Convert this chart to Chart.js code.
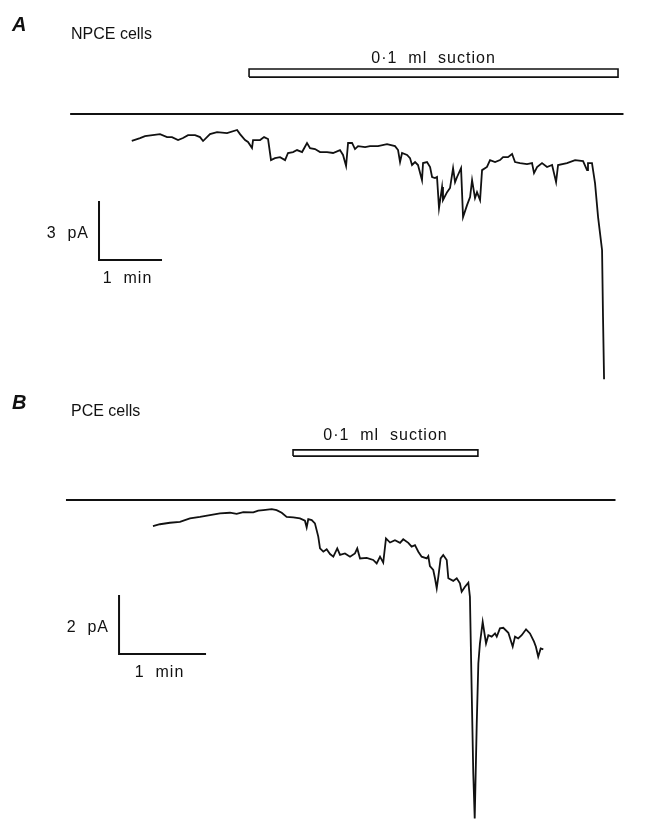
<!DOCTYPE html>
<html>
<head>
<meta charset="utf-8">
<script src="https://cdn.jsdelivr.net/npm/chart.js@4.4.1/dist/chart.umd.min.js"></script>
<style>
  html, body { margin: 0; padding: 0; background: #fff; }
  #wrap { position: relative; width: 649px; height: 824px; }
  canvas { position: absolute; left: 0; }
</style>
</head>
<body>
<div id="wrap">
  <canvas id="panelA" width="649" height="390" style="top:0"></canvas>
  <canvas id="panelB" width="649" height="434" style="top:390px"></canvas>
</div>
<script>
// === DATA (time in s, current in pA, zero current = reference line) ===

// A: NPCE cells
const timeA = [0.7, 8.6, 13.3, 27.6, 34.3, 39.0, 44.8, 49.5, 54.3, 61.0, 65.7, 68.6, 75.2, 81.9, 91.4, 101.0,
  103.8, 108.6, 111.4, 115.2, 116.2, 122.9, 126.7, 130.5, 133.3, 137.1, 141.9, 146.7, 149.5, 154.3, 158.1,
  162.9, 167.6, 170.5, 175.2, 180.0, 186.7, 192.4, 199.0, 201.9, 204.8, 206.7, 210.5, 213.3, 216.2, 222.9,
  227.6, 235.2, 243.8, 251.4, 254.3, 256.2, 258.1, 262.9, 265.7, 267.6, 270.5, 273.3, 277.1, 278.1, 281.9,
  284.8, 286.7, 289.5, 291.4, 293.3, 296.2, 297.1, 301.0, 303.8, 306.7, 308.6, 310.5, 314.3, 316.2, 320.0,
  322.9, 324.8, 327.6, 329.5, 332.4, 334.3, 339.0, 341.9, 346.7, 351.4, 354.3, 359.0, 362.9, 365.7, 370.5,
  377.1, 381.9, 383.8, 386.7, 391.4, 396.2, 401.0, 404.8, 406.7, 415.2, 422.9, 430.5, 434.3, 435.2, 439.0,
  441.9, 444.8, 448.6, 449.5, 450.5];
const currentA = [-1.36, -1.22, -1.12, -1.02, -1.17, -1.17, -1.32, -1.22, -1.07, -1.07, -1.17, -1.37, -1.02, -0.92, -0.97, -0.81,
  -1.02, -1.32, -1.42, -1.73, -1.32, -1.32, -1.17, -1.27, -2.34, -2.24, -2.19, -2.34, -1.98, -1.93, -1.83,
  -1.93, -1.47, -1.73, -1.78, -1.93, -1.93, -1.98, -1.83, -2.08, -2.64, -1.47, -1.47, -1.78, -1.63, -1.68,
  -1.63, -1.63, -1.53, -1.63, -1.83, -2.44, -1.98, -2.08, -2.24, -2.59, -2.44, -2.59, -3.36, -2.49, -2.44,
  -2.69, -3.20, -3.25, -3.20, -4.78, -3.71, -4.37, -3.97, -3.76, -2.75, -3.46, -3.20, -2.75, -5.24, -4.63,
  -4.22, -3.36, -4.27, -3.97, -4.37, -2.85, -2.69, -2.34, -2.44, -2.34, -2.19, -2.19, -2.03, -2.44, -2.49,
  -2.54, -2.49, -3.00, -2.69, -2.49, -2.69, -2.59, -3.46, -2.59, -2.49, -2.34, -2.39, -2.85, -2.49, -2.49,
  -3.51, -5.24, -6.92, -10.32, -13.48];
const suctionA = [112.4, 463.8];   // start, end (s)
const zeroSpanA = [-58, 469];      // extent of zero-current line (s)
const scaleA = [60, 3];            // 1 min, 3 pA

// B: PCE cells
const timeB = [0, 4.8, 11.7, 18.6, 25.5, 32.4, 39.3, 46.2, 53.1, 57.7, 62.3, 69.2, 72.6, 76.1, 81.9, 85.3,
  88.8, 92.2, 96.8, 101.4, 104.8, 106.0, 107.1, 109.5, 111.7, 114.0, 115.2, 117.5, 119.8, 122.1, 124.4,
  127.1, 129.0, 132.4, 135.9, 139.3, 140.9, 142.8, 147.4, 151.9, 154.3, 156.6, 158.8, 160.7, 163.5, 166.9,
  170.4, 172.6, 176.1, 178.4, 180.7, 183.0, 185.3, 188.8, 189.9, 191.0, 193.3, 194.5, 195.7, 196.8, 198.4,
  200.2, 202.6, 203.7, 207.1, 209.5, 211.7, 212.9, 215.2, 217.5, 218.6, 219.8, 220.9, 221.9, 223.3, 224.4,
  225.5, 227.4, 229.7, 231.3, 233.6, 235.9, 237.1, 239.3, 241.6, 245.1, 248.1, 249.7, 251.9, 254.3, 257.3,
  260.0, 262.8, 264.1, 265.7, 267.4, 269.2];
const currentB = [-0.88, -0.82, -0.77, -0.74, -0.62, -0.57, -0.51, -0.45, -0.43, -0.47, -0.41, -0.42, -0.36, -0.34, -0.31, -0.34,
  -0.43, -0.57, -0.59, -0.62, -0.70, -0.93, -0.65, -0.68, -0.79, -1.24, -1.64, -1.75, -1.67, -1.83, -1.92,
  -1.64, -1.86, -1.81, -1.92, -1.81, -1.64, -1.98, -1.96, -2.03, -2.15, -1.92, -2.12, -1.30, -1.44, -1.36,
  -1.45, -1.33, -1.45, -1.58, -1.53, -1.75, -1.92, -1.98, -1.90, -2.24, -2.37, -2.65, -2.99, -2.60, -1.98,
  -1.86, -2.03, -2.65, -2.74, -2.65, -2.82, -3.11, -2.94, -2.80, -3.28, -6.44, -9.26, -10.79, -7.57, -5.54,
  -4.86, -4.13, -4.86, -4.58, -4.63, -4.52, -4.63, -4.35, -4.33, -4.50, -4.97, -4.63, -4.69, -4.58, -4.38,
  -4.52, -4.80, -4.97, -5.31, -5.03, -5.06];
const suctionB = [96.6, 224.1];
const zeroSpanB = [-60, 319];
const scaleB = [60, 2];            // 1 min, 2 pA

// === PANELS ===
const INK = '#111';
const FONT = '"Liberation Sans", Arial, Helvetica, sans-serif';

function pts(ts, vs) {
  return ts.map((t, k) => ({ x: t, y: vs[k] }));
}

// draws the text of each panel (letter, title, suction label, scale bar labels)
const labelPlugin = {
  id: 'figLabels',
  afterDraw(chart, args, o) {
    const ctx = chart.ctx, sx = chart.scales.x, sy = chart.scales.y;
    ctx.save();
    ctx.fillStyle = INK;
    ctx.textBaseline = 'alphabetic';
    ctx.textAlign = 'left';
    ctx.font = 'italic bold 20px ' + FONT;
    ctx.fillText(o.letter, 12, o.letterY);
    ctx.font = '16px ' + FONT;
    ctx.fillText(o.title, 71, o.titleY);

    ctx.letterSpacing = '1px';
    ctx.font = '16px ' + FONT;
    ctx.textAlign = 'center';
    const sMid = sx.getPixelForValue((o.suction[0] + o.suction[1]) / 2);
    ctx.fillText('0·1  ml  suction', sMid, sy.getPixelForValue(o.suctionTop) - o.suctionGap);

    // scale bar labels
    const bx = sx.getPixelForValue(o.barOrigin[0]);
    const by = sy.getPixelForValue(o.barOrigin[1]);
    const bx2 = sx.getPixelForValue(o.barOrigin[0] + o.scale[0]);
    ctx.textBaseline = 'middle';
    ctx.textAlign = 'right';
    ctx.fillText(o.scale[1] + '  pA', bx - 10, by - 26);
    ctx.textAlign = 'center';
    ctx.fillText('1  min', (bx + bx2) / 2 - 3, by + 19);
    ctx.restore();
  }
};

function makePanel(id, p) {
  const [t0, t1] = p.suction;
  const [lo, hi] = p.suctionBox;
  const [ox, oy] = p.barOrigin;
  new Chart(document.getElementById(id), {
    type: 'line',
    data: {
      datasets: [
        { data: pts(p.time, p.current), borderWidth: 1.8 },
        { data: pts(p.zeroSpan, [0, 0]), borderWidth: 2 },
        { data: pts([t0, t1, t1, t0, t0], [lo, lo, hi, hi, lo]), borderWidth: 1.6 },
        { data: pts([ox, ox, ox + p.scale[0]], [oy + p.scale[1], oy, oy]), borderWidth: 2 }
      ]
    },
    options: {
      responsive: false,
      animation: false,
      devicePixelRatio: 1,
      layout: { padding: 0 },
      parsing: false,
      elements: {
        point: { radius: 0 },
        line: { borderColor: INK, tension: 0, borderJoinStyle: 'miter', fill: false }
      },
      scales: {
        x: { type: 'linear', display: false, min: p.xRange[0], max: p.xRange[1] },
        y: { type: 'linear', display: false, min: p.yRange[0], max: p.yRange[1] }
      },
      plugins: {
        legend: { display: false },
        tooltip: { enabled: false },
        figLabels: {
          letter: p.letter, letterY: p.letterY, title: p.title, titleY: p.titleY,
          suction: p.suction, suctionTop: hi, suctionGap: p.suctionGap,
          barOrigin: p.barOrigin, scale: p.scale
        }
      }
    },
    plugins: [labelPlugin]
  });
}

makePanel('panelA', {
  time: timeA, current: currentA, suction: suctionA, zeroSpan: zeroSpanA, scale: scaleA,
  suctionBox: [1.88, 2.29], barOrigin: [-30.5, -7.42],
  xRange: [-124.8, 493.3], yRange: [-14.03, 5.80],
  letter: 'A', letterY: 31, title: 'NPCE cells', titleY: 39, suctionGap: 6
});

makePanel('panelB', {
  time: timeB, current: currentB, suction: suctionB, zeroSpan: zeroSpanB, scale: scaleB,
  suctionBox: [1.49, 1.70], barOrigin: [-23.4, -5.22],
  xRange: [-105.5, 342.1], yRange: [-10.98, 3.73],
  letter: 'B', letterY: 19, title: 'PCE cells', titleY: 26, suctionGap: 10
});
</script>
</body>
</html>
